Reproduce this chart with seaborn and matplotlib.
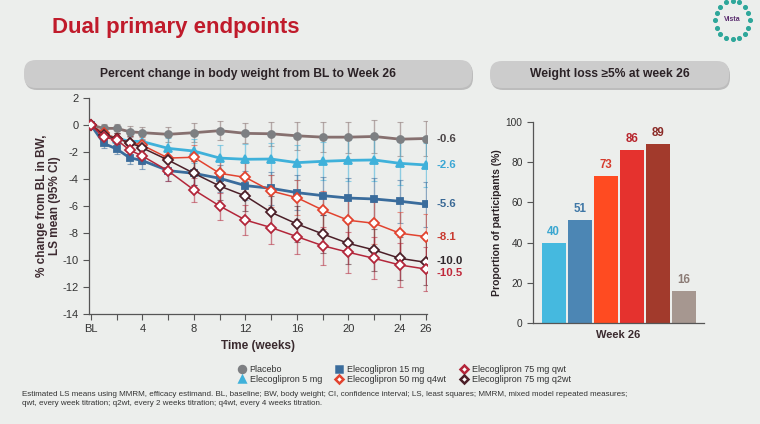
import numpy as np
import pandas as pd
import matplotlib
matplotlib.use("Agg")
import matplotlib.pyplot as plt
import seaborn as sns
from matplotlib.patches import FancyBboxPatch
from matplotlib.lines import Line2D
from matplotlib.transforms import IdentityTransform

### percent change in body weight
weeks = [0, 1, 2, 3, 4, 6, 8, 10, 12, 14, 16, 18, 20, 22, 24, 26]
placebo = [0, -0.25, -0.25, -0.5, -0.57, -0.69, -0.57, -0.42, -0.62, -0.65, -0.8, -0.9, -0.9, -0.85, -1.05, -1.0]
dose_5 = [0, -0.7, -1.0, -1.2, -1.23, -1.73, -1.93, -2.45, -2.54, -2.52, -2.79, -2.69, -2.62, -2.59, -2.84, -2.96]
dose_15 = [0, -1.36, -1.78, -2.42, -2.64, -3.38, -3.58, -3.95, -4.49, -4.69, -5.01, -5.23, -5.41, -5.48, -5.65, -5.87]
dose_50_q4wt = [0, -0.6, -1.0, -1.3, -1.5, -2.45, -2.39, -3.58, -3.88, -4.89, -5.38, -6.3, -7.06, -7.28, -8.02, -8.27]
dose_75_q2wt = [0, -0.75, -1.0, -1.3, -1.7, -2.6, -3.58, -4.52, -5.26, -6.47, -7.33, -8.07, -8.77, -9.26, -9.88, -10.17]
dose_75_qwt = [0, -0.9, -1.1, -1.85, -2.3, -3.4, -4.81, -6.0, -7.04, -7.6, -8.27, -8.94, -9.43, -9.88, -10.37, -10.67]

# half widths of the 95% CI
ci_placebo = [0, 0.3, 0.35, 0.4, 0.45, 0.55, 0.7, 0.7, 0.75, 0.9, 1.05, 1.1, 1.15, 1.2, 1.25, 1.3]
ci_active = [0, 0.35, 0.4, 0.5, 0.6, 0.75, 0.9, 1.0, 1.1, 1.2, 1.3, 1.4, 1.5, 1.55, 1.6, 1.65]

end_labels = ["-0.6", "-2.6", "-5.6", "-8.1", "-10.0", "-10.5"]
series_names = ["Placebo", "Elecoglipron 5 mg", "Elecoglipron 15 mg",
                "Elecoglipron 50 mg q4wt", "Elecoglipron 75 mg q2wt", "Elecoglipron 75 mg qwt"]

### weight loss >=5% at week 26
bar_groups = ["Elecoglipron 5 mg", "Elecoglipron 15 mg", "Elecoglipron 50 mg q4wt",
              "Elecoglipron 75 mg qwt", "Elecoglipron 75 mg q2wt", "Placebo"]
bar_values = [40, 51, 73, 86, 89, 16]

footnote = ("Estimated LS means using MMRM, efficacy estimand. BL, baseline; BW, body weight; CI, confidence interval; "
            "LS, least squares; MMRM, mixed model repeated measures;\n"
            "qwt, every week titration; q2wt, every 2 weeks titration; q4wt, every 4 weeks titration.")

sns.set_theme(style="white")
plt.rcParams['font.family'] = ['Liberation Sans', 'DejaVu Sans']
plt.rcParams['axes.unicode_minus'] = False

BG = "#eceeec"
fig = plt.figure(figsize=(7.6, 4.24), dpi=100, facecolor=BG)

## title and header pills (pixel coords, origin bottom left)
H = 424
fig.text(52 / 760, 1 - 27 / H, "Dual primary endpoints", color="#c01b2b", fontsize=16,
         fontweight="bold", va="center", ha="left")
for (x0, x1, y0, y1, txt) in [(24, 472, 60, 88, "Percent change in body weight from BL to Week 26"),
                              (490, 729, 61, 88, "Weight loss \u22655% at week 26")]:
    shadow = FancyBboxPatch((x0 + 1, H - y1 - 2), x1 - x0, y1 - y0, boxstyle="round,pad=0,rounding_size=12",
                            transform=IdentityTransform(), facecolor="#bcbcbc", edgecolor="none", zorder=0)
    pill = FancyBboxPatch((x0, H - y1), x1 - x0, y1 - y0, boxstyle="round,pad=0,rounding_size=12",
                          transform=IdentityTransform(), facecolor="#cccccc", edgecolor="none", zorder=1)
    fig.patches.extend([shadow, pill])
    fig.text((x0 + x1) / 2 / 760, 1 - (y0 + y1) / 2 / H, txt, ha="center", va="center",
             fontsize=8.7, fontweight="bold", color="#2b2226", zorder=2)

## Vista logo (decorative ring of dots)
lax = fig.add_axes([700 / 760, 1 - 48 / H, 60 / 760, 48 / H])
lax.set_axis_off()
ang = np.linspace(0, 2 * np.pi, 16, endpoint=False)
lax.scatter(np.cos(ang), np.sin(ang), s=7, c="#2ea79a", marker="o")
lax.text(0, 0.05, "Vista", ha="center", va="center", fontsize=5, color="#5a2d6e", fontweight="bold")
lax.set_xlim(-1.9, 1.6)
lax.set_ylim(-1.45, 1.05)

## left panel: line chart
ax = fig.add_axes([89 / 760, 1 - 314 / H, (427 - 89) / 760, (314 - 98) / H])
ax.set_facecolor("none")
styles = [
    # values, ci, line colour, marker, face, edge, lw, ms, label colour
    (placebo, ci_placebo, "#86706f", "o", "#7d7f82", "#7d7f82", 2.0, 5.0, "#4a4446"),
    (dose_5, ci_active, "#3fb1da", "^", "#3fb1da", "#3fb1da", 2.0, 5.5, "#3aa6d4"),
    (dose_15, ci_active, "#3a6c9c", "s", "#3a6c9c", "#3a6c9c", 2.0, 4.8, "#396895"),
    (dose_50_q4wt, ci_active, "#e2432f", "D", "white", "#e2432f", 1.1, 4.8, "#c93a30"),
    (dose_75_q2wt, ci_active, "#4b1f28", "D", "white", "#4b1f28", 1.1, 4.8, "#2f282c"),
    (dose_75_qwt, ci_active, "#b3263a", "D", "white", "#b3263a", 1.1, 4.8, "#c0283a"),
]
for k, (vals, ci, col, mk, fc, ec, lw, ms, lc) in enumerate(styles):
    ax.errorbar(weeks, vals, yerr=ci, fmt="none", ecolor=col, alpha=0.55, elinewidth=1.0,
                capsize=2, capthick=0.8, zorder=2)
    sns.lineplot(x=weeks, y=vals, ax=ax, color=col, linewidth=lw, marker=mk, markersize=ms,
                 markerfacecolor=fc, markeredgecolor=ec, markeredgewidth=1.3, errorbar=None, zorder=3 + k)
    nudge = {4: 0.12, 5: -0.3}.get(k, 0)
    ax.annotate(end_labels[k], (weeks[-1], vals[-1] + nudge), xytext=(11, 0), textcoords="offset pixels",
                ha="left", va="center", fontsize=8.2, fontweight="bold", color=lc, annotation_clip=False)

ax.set_xlim(-0.15, 26.1)
ax.set_ylim(-14, 2)
ax.set_yticks(range(-14, 3, 2))
ax.set_xticks([0, 4, 8, 12, 16, 20, 24, 26])
ax.set_xticklabels(["BL", "4", "8", "12", "16", "20", "24", "26"])
ax.set_xticks([2, 6, 10, 14, 18, 22], minor=True)
ax.tick_params(axis="both", which="both", direction="out", length=4, width=0.8, colors="#555555",
               labelsize=8, labelcolor="#333333", bottom=True, left=True)
for s in ["top", "right"]:
    ax.spines[s].set_visible(False)
for s in ["left", "bottom"]:
    ax.spines[s].set_color("#555555")
    ax.spines[s].set_linewidth(0.9)
ax.set_xlabel("Time (weeks)", fontsize=8.5, fontweight="bold", color="#3a2a2e", labelpad=4)
ax.set_ylabel("% change from BL in BW,\nLS mean (95% CI)", fontsize=8.5, fontweight="bold",
              color="#3d2a30", labelpad=1, linespacing=1.1)

## right panel: bars
bar_colors = ["#45b9df", "#4c86b4", "#ff4b21", "#e5322e", "#a23a2c", "#a69790"]
bar_text = ["#3aa6d0", "#3f77a6", "#d63a2c", "#b8242c", "#8a2a26", "#8c7c76"]
bx = fig.add_axes([533 / 760, 1 - 323 / H, 171 / 760, 201 / H])
bx.set_facecolor("none")
df = pd.DataFrame({"group": bar_groups, "value": bar_values})
sns.barplot(data=df, x="group", y="value", hue="group", palette=bar_colors, legend=False,
            ax=bx, width=0.93, saturation=1, edgecolor="none")
for i, v in enumerate(bar_values):
    bx.text(i, v + 2.5, str(v), ha="center", va="bottom", fontsize=8.3, fontweight="bold", color=bar_text[i])
bx.set_ylim(0, 100)
bx.set_xlim(-0.8, 5.78)
bx.set_yticks(range(0, 101, 20))
bx.set_xticks([])
bx.tick_params(axis="y", direction="out", length=4, width=0.8, colors="#555555", labelsize=7.3,
               labelcolor="#333333", left=True)
for s in ["top", "right"]:
    bx.spines[s].set_visible(False)
for s in ["left", "bottom"]:
    bx.spines[s].set_color("#555555")
    bx.spines[s].set_linewidth(0.9)
bx.set_xlabel("Week 26", fontsize=8, fontweight="bold", color="#3a2a2e", labelpad=5)
bx.set_ylabel("Proportion of participants (%)", fontsize=7.5, fontweight="bold", color="#2b2226", labelpad=3)

## shared legend
legend_order = [0, 1, 2, 3, 5, 4]
handles = []
for k in legend_order:
    vals, ci, col, mk, fc, ec, lw, ms, lc = styles[k]
    handles.append(Line2D([], [], linestyle="none", marker=mk, markersize=5 if mk != "D" else 4.5,
                          markerfacecolor=fc, markeredgecolor=ec, markeredgewidth=1.8, label=series_names[k]))
fig.legend(handles=handles, ncol=3, loc="upper left", bbox_to_anchor=(238 / 760, 1 - 365 / H),
           frameon=False, fontsize=6.5, handlelength=0.8, handletextpad=0.5, columnspacing=1.5,
           labelspacing=0.15, borderpad=0, borderaxespad=0, labelcolor="#333333")

fig.text(22 / 760, 1 - 399 / H, footnote, fontsize=5.8, color="#333333", ha="left", va="center",
         linespacing=1.5)

fig.savefig("out.png", dpi=100, facecolor=BG)
